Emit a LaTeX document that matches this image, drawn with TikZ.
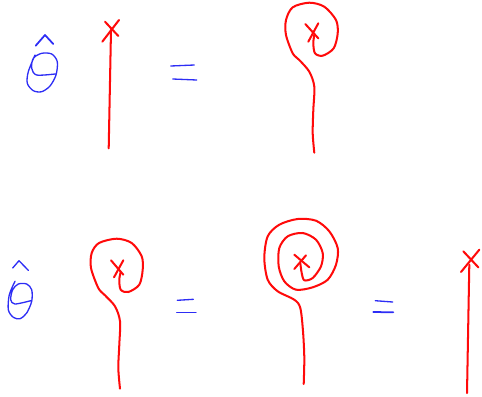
\documentclass[tikz,border=0pt]{standalone}
\usepackage{tikz}
\usepackage{xcolor}
\definecolor{inkred}{RGB}{255,10,10}
\definecolor{inkblue}{RGB}{45,45,245}

\begin{document}
\begin{tikzpicture}[x=0.02cm, y=-0.02cm,
    redink/.style={draw=inkred, line width=1.15pt, line cap=round, line join=round},
    blueink/.style={draw=inkblue, line width=0.75pt, line cap=round, line join=round}]
  \useasboundingbox (0,0) rectangle (482,396);

  %% Top row: hat theta
  \draw[blueink] plot[smooth] coordinates {(35,55) (28.3,71.7) (27.3,83.3) (33.3,90.7) (41.7,91.7)
    (50,86) (56,75) (57.3,61.7) (51.7,54) (41.7,53.3) (33.3,58.3) (31.7,68.3) (36.7,75) (55,74)};
  \draw[blueink, line width=1pt] (35.7,45.7) -- (45,35) -- (53.3,44);
  %% Top row: straight line
  \draw[redink] (111,30) -- (108.7,148.3);
  \draw[redink] (105,21.7) -- (118.3,36);
  \draw[redink] (119,20) -- (102.3,41.7);
  %% Top row: equals
  \draw[blueink] (170.7,66) -- (194.3,65);
  \draw[blueink] (172.7,79) -- (196.7,80);
  %% Top row: one winding
  \draw[redink] plot[smooth] coordinates {(314.3,152.7) (312.7,133.3) (313.3,110) (314.3,86.7)
    (309.3,71.7) (299.3,60) (292.7,53.3) (286,35) (286,20) (292.7,7.3) (309.3,2.7) (324.3,6.7)
    (336,20) (337.7,33.3) (333.7,48.3) (322.7,55.7) (315,53.3) (313.3,43.3) (314.3,35)};
  \draw[redink] (305.3,24) -- (318.3,38.3);
  \draw[redink] (318.3,23.3) -- (308.3,41.7);

  %% Bottom row: hat theta
  \draw[blueink] plot[smooth] coordinates {(15,281.3) (9.3,294.7) (8.3,309.7) (13.3,317.3) (20,318.7)
    (26.7,313) (31.7,301.3) (31.7,289.7) (26.7,284) (18.3,284) (12.7,289.7) (10.7,299.7) (15,304) (30.7,300.7)};
  \draw[blueink] (12.7,268) -- (19,260.7) -- (28.3,270.3);
  %% Bottom row: one winding
  \draw[redink] plot[smooth] coordinates {(120,388.7) (118.3,368) (119.3,344.7) (120,321.3)
    (115,306.3) (105,295.3) (98.3,288) (91,268) (91.7,253) (99,243) (116.7,238.7) (131.7,243)
    (141.7,256.3) (142.7,269.7) (139.3,284.7) (128.3,292) (120.7,289.7) (119.3,279.7) (120.7,272)};
  \draw[redink] (111,260.3) -- (123.3,274.7);
  \draw[redink] (123.3,260.3) -- (114,277.3);
  %% Bottom row: first equals
  \draw[blueink] (177.3,300.3) -- (193.3,299.3);
  \draw[blueink] (176.7,312.7) -- (196,312.7);
  %% Bottom row: two windings
  \draw[redink] plot[smooth] coordinates {(303.7,384) (304.3,358) (303,331.3) (300.3,308)
    (294.3,299.7) (277.7,291.3) (267.7,279.7) (264.3,258) (267.7,236.3) (279.3,224.7) (297.7,219)
    (316,220.7) (329.3,231.3) (337.7,248) (336,264.7) (327.7,279.7) (312.7,287.3) (296,289.7)
    (284.3,281.3) (278.7,266.3) (279.3,248) (287.7,236.3) (302.7,233) (316,239.7) (322.7,253)
    (321,266.3) (312.7,278) (304.3,280.3) (301.7,273) (300.3,263)};
  \draw[redink] (294.3,254.7) -- (309.3,267.3);
  \draw[redink] (306,255.3) -- (294.3,269);
  %% Bottom row: second equals
  \draw[blueink] (375.3,300.7) -- (392.7,302);
  \draw[blueink, line width=1pt] (373.3,312) -- (393.3,312.3);
  %% Bottom row: straight line
  \draw[redink] (469.3,264.7) -- (467,393);
  \draw[redink] (463.3,251.3) -- (478.3,267.3);
  \draw[redink] (479.3,249.7) -- (461,272);
\end{tikzpicture}
\end{document}
